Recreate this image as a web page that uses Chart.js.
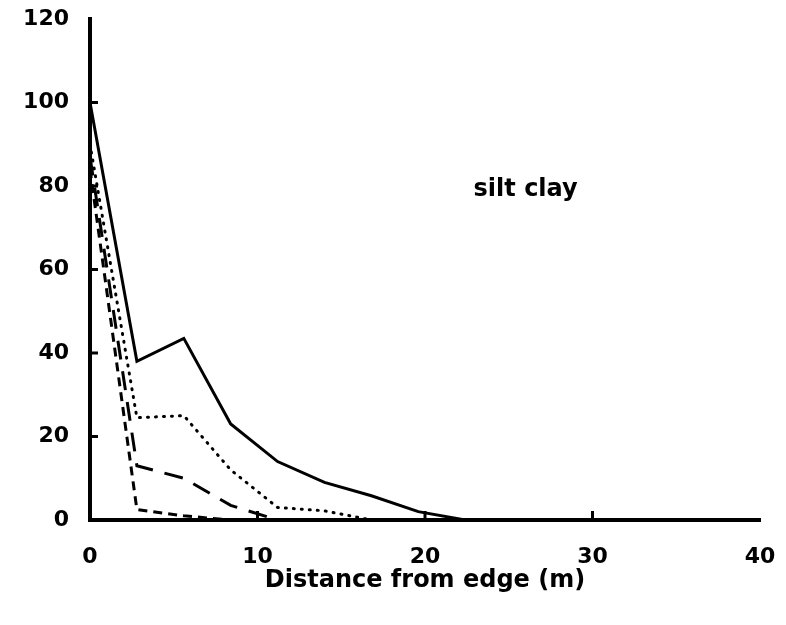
<!DOCTYPE html>
<html>
<head>
<meta charset="utf-8">
<script src="https://cdn.jsdelivr.net/npm/chart.js@4/dist/chart.umd.min.js"></script>
<style>
  html, body { margin: 0; padding: 0; background: #fff; }
  #wrap { width: 786px; height: 625px; }
</style>
</head>
<body>
<div id="wrap"><canvas id="myChart" width="786" height="625"></canvas></div>
<script>
// distance from edge (m) and the four curves
const distance   = [0, 2.8, 5.6, 8.4, 11.2, 14, 16.8, 19.6, 22.4, 40];
const solidVals  = [100, 38, 43.5, 23, 14, 9, 5.8, 2, 0, 0];
const dottedVals = [90, 24.5, 25, 12, 3, 2.2, 0, 0, 0, 0];
const longDash   = [87, 13, 10, 3.5, 0, 0, 0, 0, 0, 0];
const shortDash  = [84, 2.5, 1, 0, 0, 0, 0, 0, 0, 0];
const xTicks = [0, 10, 20, 30, 40];
const yTicks = [0, 20, 40, 60, 80, 100, 120];
const label = 'silt clay';

const FONT = 'DejaVu Sans';

function pts(vals) {
    return distance.map((d, i) => ({ x: d, y: vals[i] }));
}

function makeSet(vals, dash, cap) {
    return {
        data: pts(vals),
        borderColor: '#000',
        borderWidth: 3,
        borderDash: dash,
        borderCapStyle: cap || 'butt',
        pointRadius: 0,
        tension: 0,
        fill: false,
        clip: false
    };
}

// inner tick marks + the "silt clay" note
const extras = {
    id: 'extras',
    afterDraw(chart) {
        const c = chart.ctx;
        const xs = chart.scales.x, ys = chart.scales.y;
        c.save();
        c.strokeStyle = '#000';
        c.lineWidth = 3;
        [20, 40, 60, 80, 100].forEach(v => {
            const y = ys.getPixelForValue(v);
            c.beginPath(); c.moveTo(xs.left, y); c.lineTo(xs.left + 8, y); c.stroke();
        });
        [10, 20, 30].forEach(v => {
            const x = xs.getPixelForValue(v);
            c.beginPath(); c.moveTo(x, ys.bottom); c.lineTo(x, ys.bottom - 9); c.stroke();
        });
        c.fillStyle = '#000';
        c.font = 'bold 24px "' + FONT + '"';
        c.textBaseline = 'middle';
        c.fillText(label, xs.getPixelForValue(22.9), ys.getPixelForValue(79));
        c.restore();
    }
};

new Chart(document.getElementById('myChart'), {
    type: 'line',
    data: {
        datasets: [
            makeSet(solidVals, []),
            makeSet(dottedVals, [1, 7], 'round'),
            makeSet(longDash, [19, 12]),
            makeSet(shortDash, [9, 6])
        ]
    },
    options: {
        responsive: false,
        animation: false,
        layout: { padding: { top: 19, right: 26, left: 0, bottom: 0 } },
        plugins: { legend: { display: false }, tooltip: { enabled: false } },
        scales: {
            x: {
                type: 'linear',
                min: 0, max: 40,
                afterFit(s) { s.height = 105; s.paddingLeft = 0; s.paddingRight = 0; },
                afterBuildTicks(s) { s.ticks = xTicks.map(v => ({ value: v })); },
                grid: { display: false, drawTicks: false },
                border: { display: true, color: '#000', width: 4 },
                ticks: { color: '#000', padding: 24, font: { family: FONT, size: 22, weight: 'bold' }, maxRotation: 0 },
                title: {
                    display: true, text: 'Distance from edge (m)', color: '#000',
                    font: { family: FONT, size: 24, weight: 'bold' },
                    padding: { top: 0, bottom: 30 }
                }
            },
            y: {
                min: 0, max: 120,
                afterFit(s) { s.width = 90; s.paddingTop = 0; s.paddingBottom = 0; },
                afterBuildTicks(s) { s.ticks = yTicks.map(v => ({ value: v })); },
                grid: { display: false, drawTicks: false },
                border: { display: true, color: '#000', width: 4 },
                ticks: { color: '#000', padding: 21, font: { family: FONT, size: 22, weight: 'bold' } }
            }
        }
    },
    plugins: [extras]
});
</script>
</body>
</html>
